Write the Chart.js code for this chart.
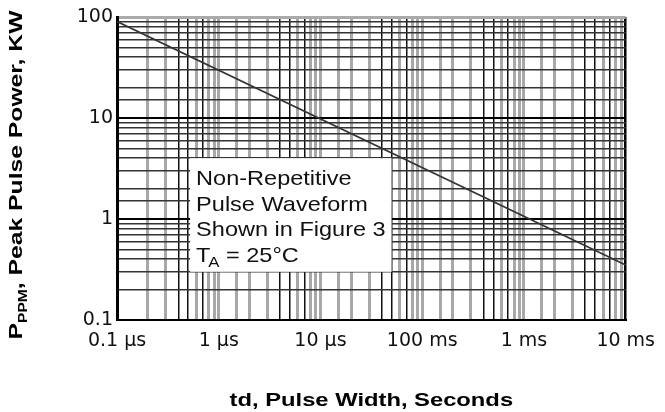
<!DOCTYPE html>
<html>
<head>
<meta charset="utf-8">
<script src="https://cdn.jsdelivr.net/npm/chart.js@4.4.1/dist/chart.umd.min.js"></script>
<style>
  html, body { margin: 0; padding: 0; background: #fff; }
  #wrap { width: 665px; height: 412px; }
</style>
</head>
<body>
<div id="wrap"><canvas id="powerChart"></canvas></div>
<script>
// pulse width (seconds) vs peak pulse power (kW)
const pulseWidths = [1e-7, 1e-2];
const peakPower = [90, 0.35];

const xDecades = [-7, -6, -5, -4, -3, -2];
const xTickLabels = ['0.1 µs', '1 µs', '10 µs', '100 ms', '1 ms', '10 ms'];
const yTickValues = [0.1, 1, 10, 100];
const yTickLabels = ['0.1', '1', '10', '100'];

const boxLines = ['Non-Repetitive', 'Pulse Waveform', 'Shown in Figure 3'];

// exponent if v is a power of ten, else null
function exactDecade(v) {
  const l = Math.log10(v);
  const r = Math.round(l);
  return Math.abs(l - r) < 1e-6 ? r : null;
}
function mantissa(v) {
  const e = Math.floor(Math.log10(v) + 1e-6);
  return Math.round(v / Math.pow(10, e));
}

// which minor lines come out dark in the scan
const darkMantissas = [4, 5, 7];

const overlayPlugin = {
  id: 'overlay',
  afterDatasetsDraw(chart) {
    const { ctx, scales: { x, y } } = chart;
    const left = x.getPixelForValue(5e-7) + 2, right = x.getPixelForValue(5e-5);
    const top = y.getPixelForValue(4), bottom = y.getPixelForValue(0.3);
    ctx.save();
    ctx.fillStyle = '#fff';
    ctx.fillRect(left, top, right - left, bottom - top);

    // note text, stretched a bit like the scan
    ctx.fillStyle = '#111';
    ctx.textBaseline = 'alphabetic';
    const sx = 1.12;
    const font = '21px "Liberation Sans", Arial, sans-serif';
    const tx = left + 6;
    let ty = top + 27;
    ctx.font = font;
    boxLines.forEach(line => {
      ctx.save();
      ctx.translate(tx, ty);
      ctx.scale(sx, 1);
      ctx.fillText(line, 0, 0);
      ctx.restore();
      ty += 25.5;
    });
    ctx.save();
    ctx.translate(tx, ty);
    ctx.scale(sx, 1);
    ctx.font = font;
    ctx.fillText('T', 0, 0);
    let w = ctx.measureText('T').width;
    ctx.font = '15px "Liberation Sans", Arial, sans-serif';
    ctx.fillText('A', w - 2, 5);
    w += ctx.measureText('A').width - 2;
    ctx.font = font;
    ctx.fillText(' = 25°C', w, 0);
    ctx.restore();

    ctx.restore();
  },
  afterDraw(chart) {
    const { ctx, chartArea } = chart;
    ctx.save();
    ctx.fillStyle = '#000';
    ctx.textBaseline = 'alphabetic';

    // x axis title
    ctx.font = 'bold 19px "Liberation Sans", Arial, sans-serif';
    const xTitle = 'td, Pulse Width, Seconds';
    const xs = 1.25;
    const xw = ctx.measureText(xTitle).width * xs;
    ctx.save();
    ctx.translate((chartArea.left + chartArea.right) / 2 - xw / 2, 406);
    ctx.scale(xs, 1);
    ctx.fillText(xTitle, 0, 0);
    ctx.restore();

    // y axis title with subscript
    const parts = [
      { t: 'P', font: 'bold 19px "Liberation Sans", Arial, sans-serif', dy: 0 },
      { t: 'PPM', font: 'bold 12px "Liberation Sans", Arial, sans-serif', dy: 5 },
      { t: ', Peak Pulse Power, KW', font: 'bold 19px "Liberation Sans", Arial, sans-serif', dy: 0 }
    ];
    let total = 0;
    parts.forEach(p => { ctx.font = p.font; p.w = ctx.measureText(p.t).width; total += p.w; });
    const sy = 1.3;
    ctx.save();
    ctx.translate(22, 175);
    ctx.rotate(-Math.PI / 2);
    ctx.scale(sy, 1);
    let px = -total / 2;
    parts.forEach(p => {
      ctx.font = p.font;
      ctx.fillText(p.t, px, p.dy);
      px += p.w;
    });
    ctx.restore();

    ctx.restore();
  }
};

const ctx = document.getElementById('powerChart').getContext('2d');
new Chart(ctx, {
  type: 'line',
  data: {
    datasets: [{
      data: pulseWidths.map((t, i) => ({ x: t, y: peakPower[i] })),
      borderColor: '#333',
      borderWidth: 1.8,
      pointRadius: 0,
      fill: false
    }]
  },
  options: {
    responsive: true,
    maintainAspectRatio: false,
    animation: false,
    devicePixelRatio: 1,
    layout: { padding: { top: 17, right: 29, left: 0, bottom: 0 } },
    plugins: { legend: { display: false }, tooltip: { enabled: false } },
    scales: {
      x: {
        type: 'logarithmic',
        min: 1e-7,
        max: 1e-2,
        afterFit: (scale) => { scale.height = 92; },
        border: { display: true, color: '#000', width: 2 },
        grid: {
          drawTicks: false,
          color: (c) => {
            const v = c.tick.value;
            if (exactDecade(v) === -2) return '#000';
            if (exactDecade(v) !== null) return '#a8a8a8';
            return darkMantissas.includes(mantissa(v)) ? '#111' : '#a8a8a8';
          },
          lineWidth: (c) => {
            const v = c.tick.value;
            if (exactDecade(v) === -2) return 2.5;
            if (exactDecade(v) !== null) return 3;
            return darkMantissas.includes(mantissa(v)) ? 1.5 : 3;
          }
        },
        ticks: {
          autoSkip: false,
          maxRotation: 0,
          padding: 10,
          color: '#111',
          font: { family: '"DejaVu Sans", sans-serif', size: 19 },
          callback: (v) => {
            const e = exactDecade(v);
            const i = e === null ? -1 : xDecades.indexOf(e);
            return i >= 0 ? xTickLabels[i] : '';
          }
        }
      },
      y: {
        type: 'logarithmic',
        min: 0.1,
        max: 100,
        afterFit: (scale) => { scale.width = 117; },
        border: { display: true, color: '#000', width: 3 },
        grid: {
          drawTicks: false,
          color: (c) => (c.tick.value >= 99 ? '#aaa' : (exactDecade(c.tick.value) !== null ? '#000' : '#333')),
          lineWidth: (c) => (c.tick.value >= 99 ? 3 : (exactDecade(c.tick.value) !== null ? 2 : 1.5))
        },
        ticks: {
          autoSkip: false,
          padding: 4,
          color: '#111',
          font: { family: '"DejaVu Sans", sans-serif', size: 19 },
          callback: (v) => {
            const i = yTickValues.findIndex(t => Math.abs(t - v) / t < 1e-6);
            return i >= 0 ? yTickLabels[i] : '';
          }
        }
      }
    }
  },
  plugins: [overlayPlugin]
});
</script>
</body>
</html>
